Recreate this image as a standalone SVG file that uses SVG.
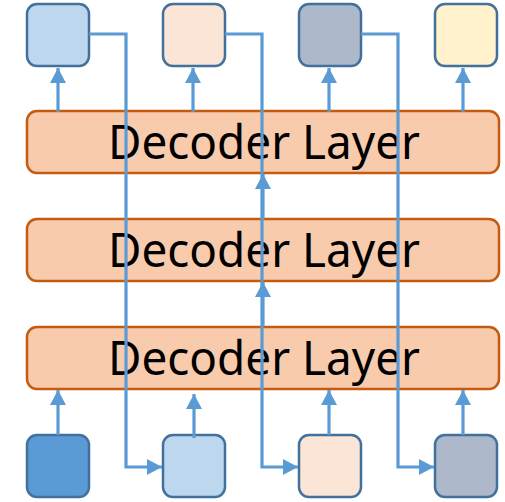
<svg xmlns="http://www.w3.org/2000/svg" width="505" height="502" viewBox="0 0 505 502">
<style>
.box{stroke:#41719C;stroke-width:2.5}
.layer{fill:#F8CBAD;stroke:#C55A11;stroke-width:2.5}
.lbl{font-family:"Noto Sans","Open Sans",sans-serif;font-size:48px;fill:#000;text-anchor:middle}
.arr{fill:none;stroke:#5B9BD5;stroke-width:3.2;marker-end:url(#ah)}
</style>
<defs>
<marker id="ah" markerUnits="userSpaceOnUse" markerWidth="16" markerHeight="16" refX="15" refY="8" orient="auto">
<path d="M0,0 L15,8 L0,16 Z" fill="#5B9BD5"/>
</marker>
</defs>
<g id="out1"><rect class="box" x="27" y="4" width="62" height="62" rx="10" fill="#BDD7EE"/></g>
<g id="out2"><rect class="box" x="163" y="4" width="62" height="62" rx="10" fill="#FBE5D6"/></g>
<g id="out3"><rect class="box" x="299" y="4" width="62" height="62" rx="10" fill="#ADB9CA"/></g>
<g id="out4"><rect class="box" x="435" y="4" width="62" height="62" rx="10" fill="#FFF2CC"/></g>
<g id="layer1"><rect class="layer" x="27" y="111" width="472" height="62" rx="10"/><text class="lbl" x="264" y="159" textLength="312" lengthAdjust="spacingAndGlyphs">Decoder Layer</text></g>
<g id="layer2"><rect class="layer" x="27" y="219" width="472" height="62" rx="10"/><text class="lbl" x="264" y="267" textLength="312" lengthAdjust="spacingAndGlyphs">Decoder Layer</text></g>
<g id="layer3"><rect class="layer" x="27" y="327" width="472" height="62" rx="10"/><text class="lbl" x="264" y="375" textLength="312" lengthAdjust="spacingAndGlyphs">Decoder Layer</text></g>
<g id="in1"><rect class="box" x="27" y="435" width="62" height="62" rx="10" fill="#5B9BD5"/></g>
<g id="in2"><rect class="box" x="163" y="435" width="62" height="62" rx="10" fill="#BDD7EE"/></g>
<g id="in3"><rect class="box" x="299" y="435" width="62" height="62" rx="10" fill="#FBE5D6"/></g>
<g id="in4"><rect class="box" x="435" y="435" width="62" height="62" rx="10" fill="#ADB9CA"/></g>
<g id="connectors">
<path class="arr" d="M89,34 H126 V467 H162"/>
<path class="arr" d="M225,34 H262 V467 H298"/>
<path class="arr" d="M361,34 H398 V467 H434"/>
<path class="arr" d="M58,112 V68"/>
<path class="arr" d="M193,112 V68"/>
<path class="arr" d="M329,112 V68"/>
<path class="arr" d="M463,112 V68"/>
<path class="arr" d="M263,219 V174"/>
<path class="arr" d="M263,327 V282"/>
<path class="arr" d="M58,435 V390"/>
<path class="arr" d="M194,438 V394"/>
<path class="arr" d="M329,435 V390"/>
<path class="arr" d="M463,435 V390"/>
</g>
</svg>
